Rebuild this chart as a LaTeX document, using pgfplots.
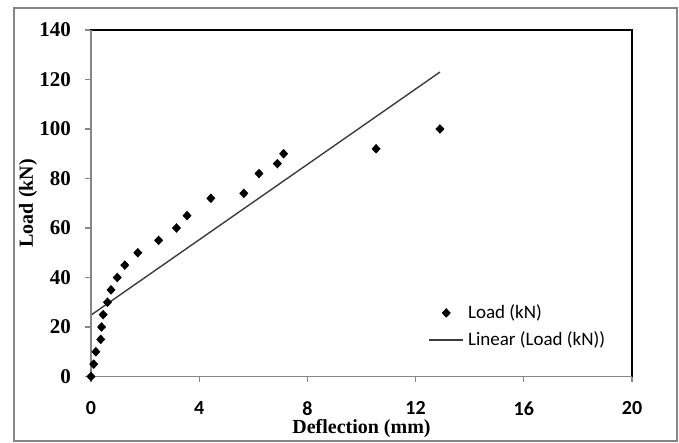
\documentclass[border=0pt]{standalone}
\usepackage{fontspec}
\setmainfont{Liberation Serif}
\newfontfamily\carlito{Carlito}
\usepackage{pgfplots}
\pgfplotsset{compat=1.18}
\definecolor{axgray}{RGB}{134,134,134}
\definecolor{trend}{RGB}{60,60,60}

\begin{document}
\begin{tikzpicture}
  \useasboundingbox (0pt,0pt) rectangle (339.5pt,221.5pt);
  % outer chart border
  \draw[axgray, line width=0.6pt] (7pt,1pt) rectangle (338.5pt,217.5pt);
  \begin{axis}[
      at={(45.5pt,33.25pt)}, anchor=south west,
      scale only axis,
      width=270.5pt, height=173.25pt,
      xmin=0, xmax=20, ymin=0, ymax=140,
      xtick={0,4,...,20}, ytick={0,20,...,140},
      xtick pos=bottom, ytick pos=left,
      tick align=outside,
      major tick length=3pt,
      tick style={axgray, line width=0.6pt},
      axis line style={black, line width=0.6pt},
      clip=false,
      /pgf/number format/assume math mode=true,
      yticklabel style={font=\bfseries\fontsize{10.5}{12}\selectfont, xshift=-3.5pt},
      xticklabel style={font=\carlito\bfseries\fontsize{10}{11}\selectfont, yshift=-6pt},
      xlabel={Deflection (mm)},
      ylabel={Load (kN)},
      label style={font=\bfseries\fontsize{10}{12}\selectfont},
      xlabel style={at={(axis description cs:0.5,-0.149)}, anchor=center},
      ylabel style={at={(axis description cs:-0.1165,0.5)}, anchor=center},
      legend style={at={(0.612,0.232)}, anchor=north west, draw=none, fill=none,
        font=\carlito\fontsize{9.5}{11}\selectfont, row sep=1pt},
      legend cell align=left,
    ]
    % measured points
    \addplot[only marks, mark=diamond*, mark size=2.1pt, black,
      mark options={xscale=1.25}] coordinates {
      (0,0) (0.1,5) (0.18,10) (0.36,15) (0.39,20) (0.45,25) (0.61,30)
      (0.74,35) (0.97,40) (1.25,45) (1.73,50) (2.5,55) (3.16,60)
      (3.55,65) (4.43,72) (5.65,74) (6.21,82) (6.89,86) (7.12,90)
      (10.54,92) (12.9,100)
    };
    % linear trendline
    \addplot[trend, line width=0.7pt] coordinates {(0,24.8) (12.9,123)};
    \legend{Load (kN), Linear (Load (kN))}
    % left and bottom axis lines are grey
    \draw[axgray, line width=0.6pt] (rel axis cs:0,1) -- (rel axis cs:0,0) -- (rel axis cs:1,0);
  \end{axis}
\end{tikzpicture}
\end{document}
